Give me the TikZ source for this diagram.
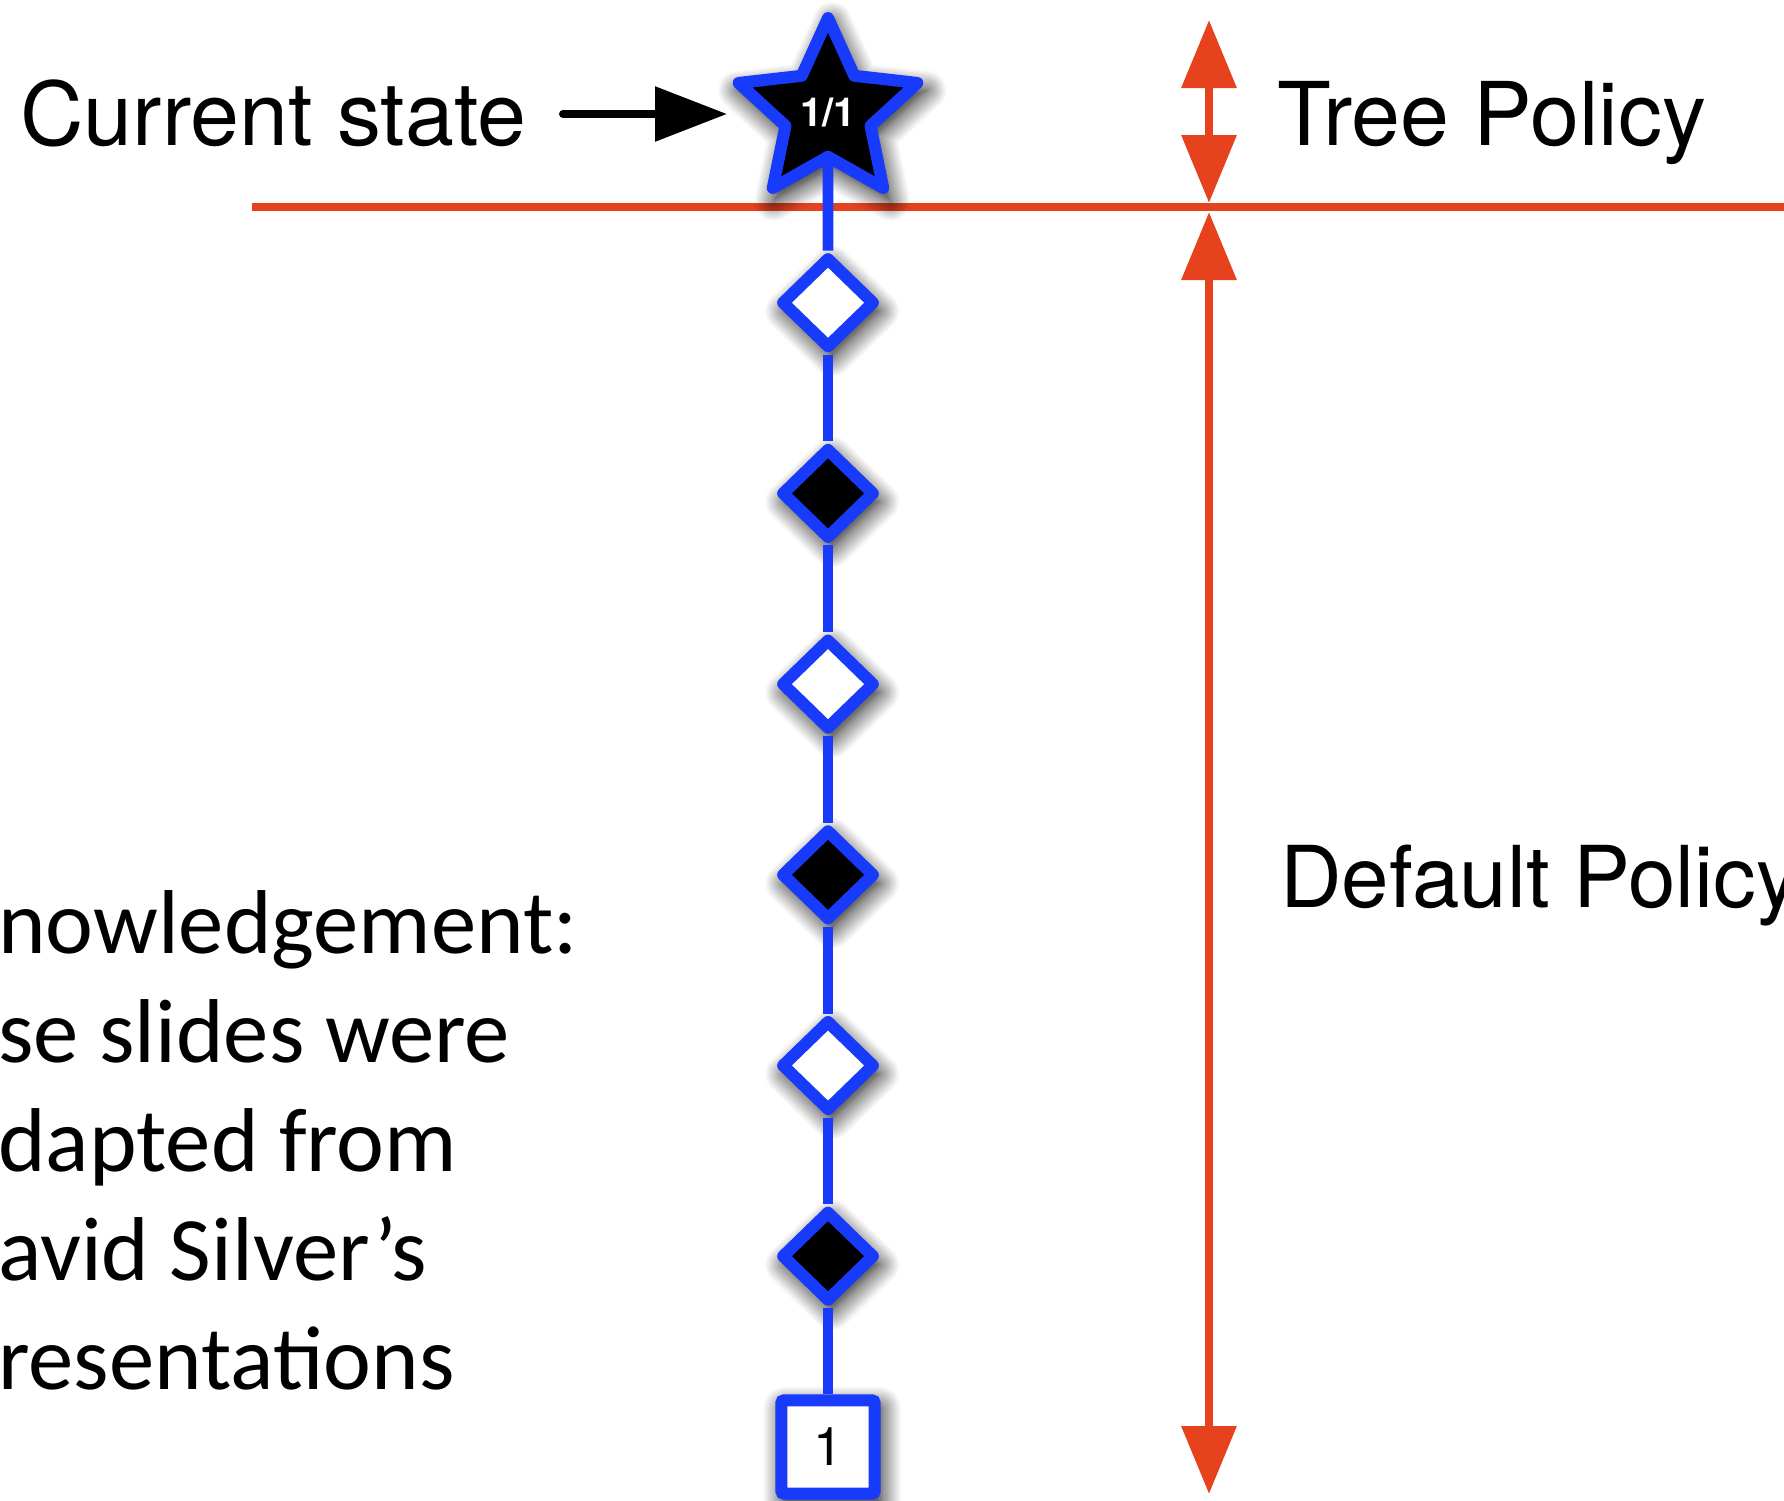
\documentclass[tikz,border=0pt]{standalone}
\usepackage{fontspec}
\setmainfont{TeX Gyre Heros}
\newfontfamily\ackfont{Carlito}
\usetikzlibrary{shapes.geometric,arrows.meta,shadows.blur}

\definecolor{nodeblue}{RGB}{24,58,250}
\definecolor{policyred}{RGB}{230,66,30}

\tikzset{
  shadowed/.style={blur shadow={shadow xshift=3pt,shadow yshift=-6pt,shadow scale=1.06,shadow blur radius=14pt,shadow blur steps=12,shadow opacity=95}},
  vnode/.style={diamond,draw=nodeblue,line width=9pt,line join=round,minimum width=71pt,minimum height=69pt,inner sep=0pt,shadowed},
  rootnode/.style={star,star points=5,star point ratio=2.1,minimum size=141pt,inner sep=0pt,fill=black,draw=nodeblue,line width=9pt,line join=round,shadowed,text=white,font=\bfseries\fontsize{30}{32}\selectfont},
  leafnode/.style={rectangle,rounded corners=2pt,minimum size=70pt,inner sep=0pt,fill=white,draw=nodeblue,line width=9pt,shadowed,font=\fontsize{40}{44}\selectfont},
  edge/.style={draw=nodeblue,line width=8pt},
  policy/.style={draw=policyred,line width=6.5pt,{Triangle[length=51pt,width=40pt]}-{Triangle[length=51pt,width=40pt]}},
  label/.style={font=\fontsize{66}{72}\selectfont,inner sep=0pt,anchor=base west},
  acktext/.style={font=\ackfont\fontsize{68}{80}\selectfont,inner sep=0pt,anchor=base west}
}

\begin{document}
\begin{tikzpicture}[x=0.75pt,y=0.75pt,yscale=-1,xscale=1]
\useasboundingbox (0,0) rectangle (1784,1500);
\clip (0,0) rectangle (1784,1500);

%Straight Lines (tree / default split)
\coordinate (cutl) at (252,207);
\coordinate (cutr) at (1790,207);
\draw[draw=policyred,line width=6pt] (cutl) -- (cutr);

% Policy arrows
\coordinate (tptop) at (1209,20);
\coordinate (tpbot) at (1209,203);
\coordinate (dptop) at (1209,212);
\coordinate (dpbot) at (1209,1494);
\draw[policy] (tptop) -- (tpbot);
\draw[policy] (dptop) -- (dpbot);

% Nodes of the simulation
\node[rootnode] (root) at (828,112) {1/1};
\foreach \i/\f in {1/white,2/black,3/white,4/black,5/white,6/black}
  \node[vnode,fill=\f] (d\i) at (828,{112+\i*190.7}) {};
\node[leafnode] (leaf) at (828,1447) {1};

% Edges
\draw[edge] (root) -- (d1);
\foreach \i [evaluate=\i as \j using int(\i+1)] in {1,...,5}
  \draw[edge] (d\i) -- (d\j);
\draw[edge] (d6) -- (leaf);

% Text Node
\node[label] (cur) at (20,145) {Current state};
\coordinate (curtail) at (563,114);
\coordinate (curtip) at (727,114);
\draw[line width=6pt,line cap=round,-{Triangle[length=54pt,width=40pt]}] (curtail) -- (curtip);

% Text Node
\node[label] (tree) at (1277,145) {Tree Policy};
% Text Node
\node[label,font=\fontsize{64}{70}\selectfont] (default) at (1280,907) {Default Policy};

% Text Node
\foreach \t [count=\i] in {nowledgement:,se slides were,dapted from,avid Silver’s,resentations}
  \node[acktext] (ack\i) at (-2,{953+(\i-1)*109}) {\t};

\end{tikzpicture}
\end{document}
